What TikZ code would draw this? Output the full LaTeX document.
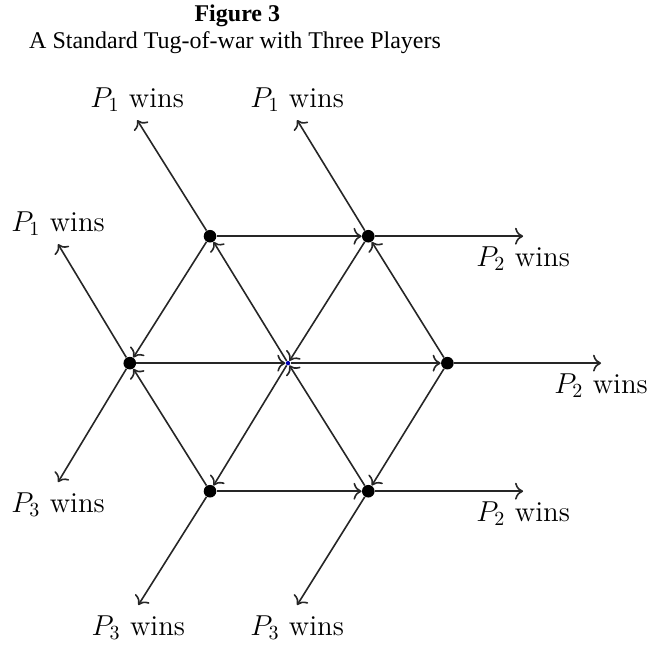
\documentclass[tikz,border=0pt]{standalone}
\usepackage{amsmath}
\usepackage{fontspec}
\newfontfamily\figfont{Liberation Serif}
\usetikzlibrary{positioning, arrows.meta}

\tikzset{
    spot/.style={circle, fill=black, inner sep=0pt, minimum size=6.3pt},
    middle/.style={circle, fill=blue!70!black, inner sep=0pt, minimum size=2.2pt},
    move/.style={-{To[scale=1.2]}, line width=0.8pt, black!85},
    win/.style={inner sep=0pt, font=\fontsize{14.4}{17}\selectfont},
    heading/.style={anchor=base, font=\figfont\fontsize{12}{14}\selectfont}
}

\begin{document}
\begin{tikzpicture}
    \useasboundingbox (0,0) rectangle (11.49,-11.32);
    % title lines
    \node[heading, font=\figfont\bfseries\fontsize{12}{14}\selectfont] (fig) at (4.17,-0.37) {Figure 3};
    \node[heading] (sub) at (4.13,-0.86) {A Standard Tug-of-war with Three Players};

    % positions of the rope
    \node[spot] (A) at (3.69,-4.15) {};
    \node[spot] (B) at (6.47,-4.15) {};
    \node[spot] (C) at (2.28,-6.38) {};
    \node[middle] (D) at (5.06,-6.38) {};
    \node[spot] (E) at (7.86,-6.38) {};
    \node[spot] (F) at (3.69,-8.63) {};
    \node[spot] (G) at (6.47,-8.63) {};

    % where the game ends
    \coordinate (a1) at (2.41,-2.11);
    \coordinate (b1) at (5.22,-2.11);
    \coordinate (c1) at (1.02,-4.29);
    \coordinate (b2) at (9.19,-4.15);
    \coordinate (e2) at (10.56,-6.38);
    \coordinate (g2) at (9.19,-8.63);
    \coordinate (c3) at (1.02,-8.47);
    \coordinate (f3) at (2.43,-10.63);
    \coordinate (g3) at (5.22,-10.63);

    \foreach \s/\t in {A/B, D/A, A/C, B/D, E/B, C/D, D/E, F/C, D/F, G/D, E/G, F/G,
                       A/a1, B/b1, C/c1, B/b2, E/e2, G/g2, C/c3, F/f3, G/g3}
        \draw[move] (\s) -- (\t);

    % outcomes
    \node[win, above=4pt of a1] (w1a) {$P_1$ wins};
    \node[win, above=4pt of b1] (w1b) {$P_1$ wins};
    \node[win, above=4pt of c1] (w1c) {$P_1$ wins};
    \node[win, below=5pt of b2] (w2b) {$P_2$ wins};
    \node[win, below=5pt of e2] (w2e) {$P_2$ wins};
    \node[win, below=5pt of g2] (w2g) {$P_2$ wins};
    \node[win, below=5pt of c3] (w3c) {$P_3$ wins};
    \node[win, below=5pt of f3] (w3f) {$P_3$ wins};
    \node[win, below=5pt of g3] (w3g) {$P_3$ wins};
\end{tikzpicture}
\end{document}
